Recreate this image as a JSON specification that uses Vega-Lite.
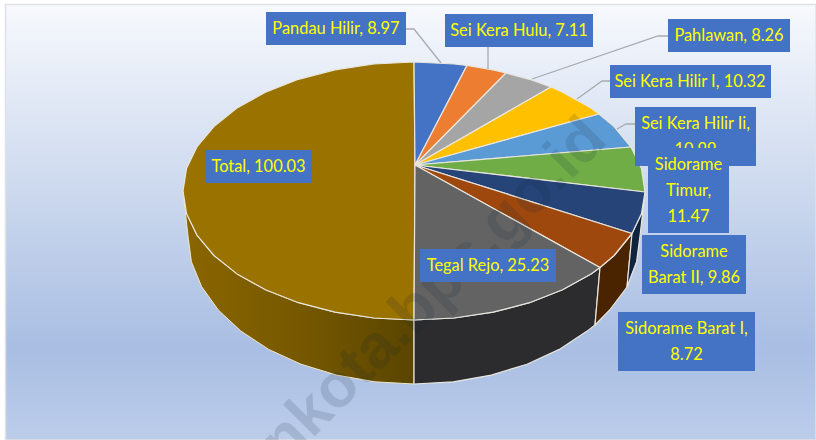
{
"$schema":"https://vega.github.io/schema/vega-lite/v6.json",
"width":816,"height":440,"padding":0,"autosize":{"type":"none"},
"background":"white","view":{"stroke":null},
"datasets":{
"bg":[{"x":5.5,"x2":816,"y":4.5,"y2":440}],
"pie":[
{"face":"Total wall","i":1,"x":414,"y":320},{"face":"Total wall","i":2,"x":373.9,"y":318},{"face":"Total wall","i":3,"x":335,"y":312.2},{"face":"Total wall","i":4,"x":298.5,"y":302.7},{"face":"Total wall","i":5,"x":265.5,"y":289.8},{"face":"Total wall","i":6,"x":237,"y":273.9},{"face":"Total wall","i":7,"x":213.9,"y":255.5},{"face":"Total wall","i":8,"x":196.9,"y":235.1},{"face":"Total wall","i":9,"x":186.5,"y":213.4},{"face":"Total wall","i":10,"x":183,"y":191},{"face":"Total wall","i":11,"x":188,"y":236},{"face":"Total wall","i":12,"x":191.4,"y":261.7},{"face":"Total wall","i":13,"x":201.6,"y":286.6},{"face":"Total wall","i":14,"x":218.3,"y":310},{"face":"Total wall","i":15,"x":240.9,"y":331.1},{"face":"Total wall","i":16,"x":268.7,"y":349.4},{"face":"Total wall","i":17,"x":301,"y":364.2},{"face":"Total wall","i":18,"x":336.7,"y":375.1},{"face":"Total wall","i":19,"x":374.8,"y":381.8},{"face":"Total wall","i":20,"x":414,"y":384},{"face":"Total wall","i":21,"x":414,"y":320},
{"face":"Tegal Rejo wall","i":1,"x":600,"y":267.5},{"face":"Tegal Rejo wall","i":2,"x":591,"y":273.9},{"face":"Tegal Rejo wall","i":3,"x":562.5,"y":289.8},{"face":"Tegal Rejo wall","i":4,"x":529.5,"y":302.7},{"face":"Tegal Rejo wall","i":5,"x":493,"y":312.2},{"face":"Tegal Rejo wall","i":6,"x":454.1,"y":318},{"face":"Tegal Rejo wall","i":7,"x":414,"y":320},{"face":"Tegal Rejo wall","i":8,"x":414,"y":384},{"face":"Tegal Rejo wall","i":9,"x":453.2,"y":381.8},{"face":"Tegal Rejo wall","i":10,"x":491.3,"y":375.1},{"face":"Tegal Rejo wall","i":11,"x":527,"y":364.2},{"face":"Tegal Rejo wall","i":12,"x":559.3,"y":349.4},{"face":"Tegal Rejo wall","i":13,"x":587.1,"y":331.1},{"face":"Tegal Rejo wall","i":14,"x":595,"y":325},{"face":"Tegal Rejo wall","i":15,"x":600,"y":267.5},
{"face":"Sidorame Barat I wall","i":1,"x":632,"y":233.5},{"face":"Sidorame Barat I wall","i":2,"x":614.1,"y":255.5},{"face":"Sidorame Barat I wall","i":3,"x":600,"y":267.5},{"face":"Sidorame Barat I wall","i":4,"x":595,"y":325},{"face":"Sidorame Barat I wall","i":5,"x":609.7,"y":310},{"face":"Sidorame Barat I wall","i":6,"x":627,"y":287},{"face":"Sidorame Barat I wall","i":7,"x":632,"y":233.5},
{"face":"Sidorame Barat II wall","i":1,"x":645,"y":192},{"face":"Sidorame Barat II wall","i":2,"x":641.5,"y":213.4},{"face":"Sidorame Barat II wall","i":3,"x":632,"y":233.5},{"face":"Sidorame Barat II wall","i":4,"x":627,"y":287},{"face":"Sidorame Barat II wall","i":5,"x":636.6,"y":261.7},{"face":"Sidorame Barat II wall","i":6,"x":640,"y":236},{"face":"Sidorame Barat II wall","i":7,"x":645,"y":192},
{"face":"Total","i":1,"x":415,"y":165},{"face":"Total","i":2,"x":414,"y":320},{"face":"Total","i":3,"x":373.9,"y":318},{"face":"Total","i":4,"x":335,"y":312.2},{"face":"Total","i":5,"x":298.5,"y":302.7},{"face":"Total","i":6,"x":265.5,"y":289.8},{"face":"Total","i":7,"x":237,"y":273.9},{"face":"Total","i":8,"x":213.9,"y":255.5},{"face":"Total","i":9,"x":196.9,"y":235.1},{"face":"Total","i":10,"x":186.5,"y":213.4},{"face":"Total","i":11,"x":183,"y":191},{"face":"Total","i":12,"x":186.5,"y":168.6},{"face":"Total","i":13,"x":196.9,"y":146.9},{"face":"Total","i":14,"x":213.9,"y":126.5},{"face":"Total","i":15,"x":237,"y":108.1},{"face":"Total","i":16,"x":265.5,"y":92.2},{"face":"Total","i":17,"x":298.5,"y":79.3},{"face":"Total","i":18,"x":335,"y":69.8},{"face":"Total","i":19,"x":373.9,"y":64},{"face":"Total","i":20,"x":414,"y":62},{"face":"Total","i":21,"x":415,"y":165},
{"face":"Pandau Hilir","i":1,"x":415,"y":165},{"face":"Pandau Hilir","i":2,"x":414,"y":62},{"face":"Pandau Hilir","i":3,"x":454.1,"y":64},{"face":"Pandau Hilir","i":4,"x":467,"y":65.4},{"face":"Pandau Hilir","i":5,"x":415,"y":165},
{"face":"Sei Kera Hulu","i":1,"x":415,"y":165},{"face":"Sei Kera Hulu","i":2,"x":467,"y":65.4},{"face":"Sei Kera Hulu","i":3,"x":493,"y":69.8},{"face":"Sei Kera Hulu","i":4,"x":506,"y":73},{"face":"Sei Kera Hulu","i":5,"x":415,"y":165},
{"face":"Pahlawan","i":1,"x":415,"y":165},{"face":"Pahlawan","i":2,"x":506,"y":73},{"face":"Pahlawan","i":3,"x":529.5,"y":79.3},{"face":"Pahlawan","i":4,"x":551,"y":87},{"face":"Pahlawan","i":5,"x":415,"y":165},
{"face":"Sei Kera Hilir I","i":1,"x":415,"y":165},{"face":"Sei Kera Hilir I","i":2,"x":551,"y":87},{"face":"Sei Kera Hilir I","i":3,"x":562.5,"y":92.2},{"face":"Sei Kera Hilir I","i":4,"x":591,"y":108.1},{"face":"Sei Kera Hilir I","i":5,"x":599,"y":114},{"face":"Sei Kera Hilir I","i":6,"x":415,"y":165},
{"face":"Sei Kera Hilir Ii","i":1,"x":415,"y":165},{"face":"Sei Kera Hilir Ii","i":2,"x":599,"y":114},{"face":"Sei Kera Hilir Ii","i":3,"x":614.1,"y":126.5},{"face":"Sei Kera Hilir Ii","i":4,"x":631,"y":147},{"face":"Sei Kera Hilir Ii","i":5,"x":415,"y":165},
{"face":"Sidorame Timur","i":1,"x":415,"y":165},{"face":"Sidorame Timur","i":2,"x":631,"y":147},{"face":"Sidorame Timur","i":3,"x":641.5,"y":168.6},{"face":"Sidorame Timur","i":4,"x":645,"y":192},{"face":"Sidorame Timur","i":5,"x":415,"y":165},
{"face":"Sidorame Barat II","i":1,"x":415,"y":165},{"face":"Sidorame Barat II","i":2,"x":645,"y":192},{"face":"Sidorame Barat II","i":3,"x":641.5,"y":213.4},{"face":"Sidorame Barat II","i":4,"x":632,"y":233.5},{"face":"Sidorame Barat II","i":5,"x":415,"y":165},
{"face":"Sidorame Barat I","i":1,"x":415,"y":165},{"face":"Sidorame Barat I","i":2,"x":632,"y":233.5},{"face":"Sidorame Barat I","i":3,"x":614.1,"y":255.5},{"face":"Sidorame Barat I","i":4,"x":600,"y":267.5},{"face":"Sidorame Barat I","i":5,"x":415,"y":165},
{"face":"Tegal Rejo","i":1,"x":415,"y":165},{"face":"Tegal Rejo","i":2,"x":600,"y":267.5},{"face":"Tegal Rejo","i":3,"x":591,"y":273.9},{"face":"Tegal Rejo","i":4,"x":562.5,"y":289.8},{"face":"Tegal Rejo","i":5,"x":529.5,"y":302.7},{"face":"Tegal Rejo","i":6,"x":493,"y":312.2},{"face":"Tegal Rejo","i":7,"x":454.1,"y":318},{"face":"Tegal Rejo","i":8,"x":414,"y":320},{"face":"Tegal Rejo","i":9,"x":415,"y":165}
],
"leaders":[
{"k":"a","i":1,"x":406,"y":29},{"k":"a","i":2,"x":414,"y":29},{"k":"a","i":3,"x":441,"y":63},
{"k":"b","i":1,"x":488,"y":47},{"k":"b","i":2,"x":488,"y":69},
{"k":"c","i":1,"x":668,"y":36},{"k":"c","i":2,"x":658,"y":36},{"k":"c","i":3,"x":532,"y":79},
{"k":"d","i":1,"x":610,"y":81},{"k":"d","i":2,"x":602,"y":81},{"k":"d","i":3,"x":577,"y":99},
{"k":"e","i":1,"x":635,"y":124},{"k":"e","i":2,"x":626,"y":124},{"k":"e","i":3,"x":617,"y":129}
],
"labels":[
{"label":"Pandau Hilir, 8.97","x":266,"x2":406,"y":12,"y2":45,"cx":336,"cy":29,"tier":1},
{"label":"Sei Kera Hulu, 7.11","x":445,"x2":593,"y":14,"y2":47,"cx":519,"cy":31,"tier":1},
{"label":"Pahlawan, 8.26","x":668,"x2":790,"y":19,"y2":52,"cx":729,"cy":36,"tier":1},
{"label":"Sei Kera Hilir I, 10.32","x":610,"x2":771,"y":65,"y2":98,"cx":690,"cy":82,"tier":1},
{"label":"Sei Kera Hilir Ii,\n10.99","x":635,"x2":756,"y":107,"y2":166,"cx":695.5,"cy":124,"tier":1},
{"label":"Sidorame\nTimur,\n11.47","x":648,"x2":729,"y":148,"y2":233,"cx":688.5,"cy":165,"tier":2},
{"label":"Sidorame\nBarat II, 9.86","x":642,"x2":746,"y":235,"y2":294,"cx":694,"cy":252,"tier":1},
{"label":"Sidorame Barat I,\n8.72","x":618,"x2":755,"y":312,"y2":371,"cx":686.5,"cy":329,"tier":1},
{"label":"Tegal Rejo, 25.23","x":420,"x2":556,"y":249,"y2":282,"cx":488,"cy":266,"tier":1},
{"label":"Total, 100.03","x":205,"x2":312,"y":150,"y2":183,"cx":258.5,"cy":167,"tier":1}
],
"mark":[{"t":"medankota.bps.go.id","x":609,"y":142}]
},
"layer":[
{"data":{"name":"bg"},
 "mark":{"type":"rect","stroke":"#dfe1e6","strokeWidth":1.5,"fill":{"gradient":"linear","x1":0,"y1":0,"x2":0,"y2":1,"stops":[{"offset":0,"color":"#f7f9fd"},{"offset":0.49,"color":"#c6d4ec"},{"offset":0.79,"color":"#a9bee3"},{"offset":1,"color":"#bccdea"}]}},
 "encoding":{"x":{"field":"x","type":"quantitative","scale":{"domain":[0,816],"nice":false,"zero":false},"axis":null},"x2":{"field":"x2"},"y":{"field":"y","type":"quantitative","scale":{"domain":[440,0],"nice":false,"zero":false},"axis":null},"y2":{"field":"y2"}}},
{"data":{"name":"pie"},"transform":[{"filter":"datum.face==='Total wall'"}],
 "mark":{"type":"line","stroke":"#efe6c8","strokeWidth":1,"strokeJoin":"round","fill":{"gradient":"linear","x1":0,"y1":0,"x2":1,"y2":0,"stops":[{"offset":0,"color":"#8a6600"},{"offset":0.5,"color":"#765800"},{"offset":1,"color":"#5a4500"}]}},
 "encoding":{"x":{"field":"x","type":"quantitative"},"y":{"field":"y","type":"quantitative"},"order":{"field":"i"}}},
{"data":{"name":"pie"},"transform":[{"filter":"datum.face!=='Total wall'"}],
 "mark":{"type":"line","stroke":"#e8e6de","strokeWidth":1.2,"strokeJoin":"round"},
 "encoding":{"x":{"field":"x","type":"quantitative"},"y":{"field":"y","type":"quantitative"},"order":{"field":"i"},
  "fill":{"field":"face","type":"nominal","legend":null,"scale":{
   "domain":["Tegal Rejo wall","Sidorame Barat I wall","Sidorame Barat II wall","Total","Pandau Hilir","Sei Kera Hulu","Pahlawan","Sei Kera Hilir I","Sei Kera Hilir Ii","Sidorame Timur","Sidorame Barat II","Sidorame Barat I","Tegal Rejo"],
   "range":["#2c2c2e","#4a2300","#10233f","#9a7200","#4472c4","#ed7d31","#a5a5a5","#ffc000","#5b9bd5","#70ad47","#264478","#9e480e","#636363"]}},
  "detail":{"field":"face"}}},
{"data":{"name":"leaders"},"mark":{"type":"line","stroke":"#a9abb0","strokeWidth":1.3},
 "encoding":{"x":{"field":"x","type":"quantitative"},"y":{"field":"y","type":"quantitative"},"detail":{"field":"k"},"order":{"field":"i"}}},
{"data":{"name":"mark"},"mark":{"type":"text","font":"Liberation Sans","fontWeight":"bold","fontSize":62,"angle":315,"align":"right","baseline":"alphabetic","fill":"#10203c","fillOpacity":0.14},
 "encoding":{"x":{"field":"x","type":"quantitative"},"y":{"field":"y","type":"quantitative"},"text":{"field":"t"}}},
{"data":{"name":"labels"},"transform":[{"filter":"datum.tier===1"}],"mark":{"type":"rect","fill":"#4472c4"},
 "encoding":{"x":{"field":"x","type":"quantitative"},"x2":{"field":"x2"},"y":{"field":"y","type":"quantitative"},"y2":{"field":"y2"}}},
{"data":{"name":"labels"},"transform":[{"filter":"datum.tier===1"}],"mark":{"type":"text","font":"Lato","fontSize":16.4,"fill":"#ffff00","align":"center","baseline":"middle","lineBreak":"\n","lineHeight":26},
 "encoding":{"x":{"field":"cx","type":"quantitative"},"y":{"field":"cy","type":"quantitative"},"text":{"field":"label"}}},
{"data":{"name":"labels"},"transform":[{"filter":"datum.tier===2"}],"mark":{"type":"rect","fill":"#4472c4"},
 "encoding":{"x":{"field":"x","type":"quantitative"},"x2":{"field":"x2"},"y":{"field":"y","type":"quantitative"},"y2":{"field":"y2"}}},
{"data":{"name":"labels"},"transform":[{"filter":"datum.tier===2"}],"mark":{"type":"text","font":"Lato","fontSize":16.4,"fill":"#ffff00","align":"center","baseline":"middle","lineBreak":"\n","lineHeight":26},
 "encoding":{"x":{"field":"cx","type":"quantitative"},"y":{"field":"cy","type":"quantitative"},"text":{"field":"label"}}}
]
}
